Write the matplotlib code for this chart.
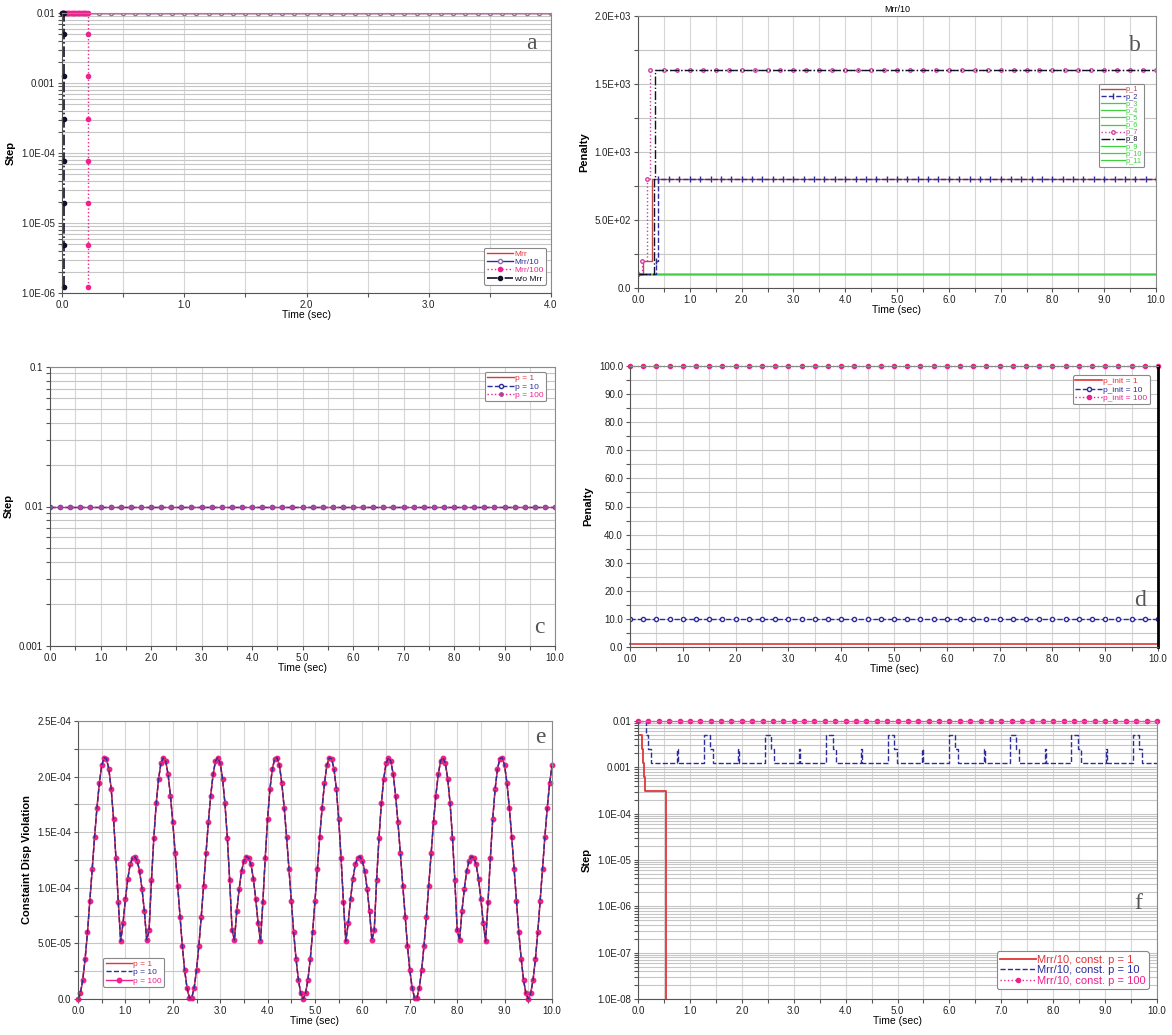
import numpy as np
import matplotlib.pyplot as plt
from matplotlib.ticker import MultipleLocator, LogLocator, FuncFormatter, NullFormatter

plt.rcParams['font.family'] = ['Liberation Sans', 'DejaVu Sans']

RED = '#e0353a'
BLUE = '#2c2c9c'
MAGENTA = '#f0208f'
GREEN = '#3ed03e'
BLACK = '#101028'

# ---- (a) step size vs time for different Mrr scalings
drop_steps = [5.0e-3, 1.25e-3, 3.1e-4, 7.8e-5, 1.95e-5, 4.9e-6, 1.2e-6]
a_t_mrr = [0.0, 4.0]
a_s_mrr = [0.01, 0.01]
a_t_mrr10 = np.round(np.arange(0, 4.001, 0.1), 2)
a_s_mrr10 = np.full(len(a_t_mrr10), 0.01)
a_t_mrr100 = list(np.round(np.arange(0, 0.211, 0.01), 2)) + [0.21] * len(drop_steps)
a_s_mrr100 = [0.01] * 22 + drop_steps
a_t_nomrr = [0.0, 0.01, 0.02] + [0.02] * len(drop_steps)
a_s_nomrr = [0.01, 0.01, 0.01] + drop_steps

# ---- (b) penalty histories, Mrr/10
grid_b = list(np.round(np.arange(0.5, 10.001, 0.25), 2))
grid_b2 = list(np.round(np.arange(0.6, 10.001, 0.2), 2))
b_t_p1 = [0.0, 0.10, 0.27, 10.0]
b_v_p1 = [100, 200, 800, 800]
b_t_p2 = [0.0, 0.35, 0.39] + grid_b2
b_v_p2 = [100, 200, 800] + [800] * len(grid_b2)
b_t_p7 = [0.0, 0.08, 0.18, 0.23] + grid_b
b_v_p7 = [100, 200, 800, 1600] + [1600] * len(grid_b)
b_t_p8 = [0.0, 0.30, 0.33] + grid_b
b_v_p8 = [100, 800, 1600] + [1600] * len(grid_b)
b_t_flat = [0.0, 10.0]
b_v_flat = [100, 100]
b_green = ['p_3', 'p_4', 'p_5', 'p_6', 'p_9', 'p_10', 'p_11']

# ---- (c) step size for constant penalties
c_t = np.round(np.arange(0, 10.001, 0.2), 2)
c_step = np.full(len(c_t), 0.01)

# ---- (d) penalty for different initial values
d_t = np.round(np.arange(0, 10.001, 0.25), 2)
d_p1 = np.full(len(d_t), 1.0)
d_p10 = np.full(len(d_t), 10.0)
d_p100 = np.full(len(d_t), 100.0)

# ---- (e) constraint displacement violation (units of 1e-4), sampled every 0.05 s
e_t = np.round(np.arange(0, 10.001, 0.05), 2)
e_viol = [
    0.00, 0.05, 0.17, 0.36, 0.60, 0.88, 1.17, 1.46, 1.72, 1.94,
    2.10, 2.17, 2.16, 2.07, 1.89, 1.62, 1.27, 0.87, 0.52, 0.68,
    0.90, 1.08, 1.21, 1.27, 1.28, 1.24, 1.15, 0.99, 0.79, 0.53,
    0.62, 1.07, 1.45, 1.76, 1.98, 2.12, 2.17, 2.14, 2.02, 1.83,
    1.59, 1.31, 1.02, 0.74, 0.48, 0.26, 0.10, 0.01, 0.01, 0.10,
    0.26, 0.48, 0.74, 1.02, 1.31, 1.59, 1.83, 2.02, 2.14, 2.17,
    2.12, 1.98, 1.76, 1.45, 1.07, 0.62, 0.53, 0.79, 0.99, 1.15,
    1.24, 1.28, 1.27, 1.21, 1.08, 0.90, 0.68, 0.52, 0.87, 1.27,
    1.62, 1.89, 2.07, 2.16, 2.17, 2.10, 1.94, 1.72, 1.46, 1.17,
    0.88, 0.60, 0.36, 0.17, 0.05,
    0.00, 0.05, 0.17, 0.36, 0.60, 0.88, 1.17, 1.46, 1.72, 1.94,
    2.10, 2.17, 2.16, 2.07, 1.89, 1.62, 1.27, 0.87, 0.52, 0.68,
    0.90, 1.08, 1.21, 1.27, 1.28, 1.24, 1.15, 0.99, 0.79, 0.53,
    0.62, 1.07, 1.45, 1.76, 1.98, 2.12, 2.17, 2.14, 2.02, 1.83,
    1.59, 1.31, 1.02, 0.74, 0.48, 0.26, 0.10, 0.01, 0.01, 0.10,
    0.26, 0.48, 0.74, 1.02, 1.31, 1.59, 1.83, 2.02, 2.14, 2.17,
    2.12, 1.98, 1.76, 1.45, 1.07, 0.62, 0.53, 0.79, 0.99, 1.15,
    1.24, 1.28, 1.27, 1.21, 1.08, 0.90, 0.68, 0.52, 0.87, 1.27,
    1.62, 1.89, 2.07, 2.16, 2.17, 2.10, 1.94, 1.72, 1.46, 1.17,
    0.88, 0.60, 0.36, 0.17, 0.05,
    0.00, 0.05, 0.17, 0.36, 0.60, 0.88, 1.17, 1.46, 1.72, 1.94,
    2.10,
]

# ---- (f) step size, Mrr/10 with constant penalties
f_t_p1 = [0.03, 0.07, 0.10, 0.12, 0.13, 0.53]
f_s_p1 = [5.0e-3, 2.5e-3, 1.25e-3, 6.25e-4, 3.1e-4, 1e-10]
f_t_p10 = [0.00, 0.15, 0.20, 0.26,
           0.76, 0.78, 1.27, 1.39, 1.45,
           1.93, 1.95, 2.44, 2.56, 2.62,
           3.10, 3.12, 3.63, 3.75, 3.81,
           4.30, 4.32, 4.81, 4.93, 4.99,
           5.47, 5.49, 5.99, 6.11, 6.17,
           6.66, 6.68, 7.16, 7.28, 7.34,
           7.84, 7.86, 8.35, 8.47, 8.53,
           9.02, 9.04, 9.53, 9.65, 9.71,
           10.0]
f_s_p10 = [0.01, 0.005, 0.0025, 0.00125,
           0.0025, 0.00125, 0.005, 0.0025, 0.00125,
           0.0025, 0.00125, 0.005, 0.0025, 0.00125,
           0.0025, 0.00125, 0.005, 0.0025, 0.00125,
           0.0025, 0.00125, 0.005, 0.0025, 0.00125,
           0.0025, 0.00125, 0.005, 0.0025, 0.00125,
           0.0025, 0.00125, 0.005, 0.0025, 0.00125,
           0.0025, 0.00125, 0.005, 0.0025, 0.00125,
           0.0025, 0.00125, 0.005, 0.0025, 0.00125,
           0.00125]
f_t_p100 = np.round(np.arange(0, 10.001, 0.2), 2)
f_s_p100 = np.full(len(f_t_p100), 0.01)


W, H = 1172, 1035
fig = plt.figure(figsize=(W / 100, H / 100), dpi=100)


def add_axes(l, t, r, b):
    return fig.add_axes([l / W, 1 - b / H, (r - l) / W, (b - t) / H])


def sci_fmt(v, pos):
    return '0.0' if v == 0 else '%.1E' % v


def log_fmt(v, pos):
    return '%g' % v if v >= 1e-3 else '%.1E' % v


def style(ax, xmax, ylabel):
    ax.set_xlim(0, xmax)
    ax.xaxis.set_major_locator(MultipleLocator(1))
    ax.xaxis.set_minor_locator(MultipleLocator(0.5))
    ax.xaxis.set_major_formatter(FuncFormatter(lambda v, p: '%.1f' % v))
    ax.grid(which='both', axis='x', color='#d6d6d6', lw=0.8)
    ax.grid(which='both', axis='y', color='#c6c6c6', lw=0.8)
    ax.set_axisbelow(True)
    ax.tick_params(which='both', direction='out', length=3, width=0.8,
                   color='#555555', labelsize=7, labelcolor='#222222', pad=2)
    ax.set_xlabel('Time (sec)', fontsize=7.5, labelpad=0)
    ax.set_ylabel(ylabel, fontsize=8, fontweight='bold', labelpad=4)
    for side in ['top', 'right']:
        ax.spines[side].set_color('#8a8a8a')
    for side in ['left', 'bottom']:
        ax.spines[side].set_color('#555555')


def log_y(ax, lo, hi):
    ax.set_yscale('log')
    ax.set_ylim(lo, hi)
    ax.yaxis.set_major_locator(LogLocator(base=10))
    ax.yaxis.set_minor_locator(LogLocator(base=10, subs=range(2, 10)))
    ax.yaxis.set_major_formatter(FuncFormatter(log_fmt))
    ax.yaxis.set_minor_formatter(NullFormatter())


def legend(ax, handles, fontsize=6, labelspacing=0.05, **kw):
    leg = ax.legend(handles=handles, fontsize=fontsize, frameon=True, fancybox=True,
                    edgecolor='#888888', framealpha=1, handlelength=3.2,
                    handletextpad=0.1, borderpad=0.3, labelspacing=labelspacing,
                    borderaxespad=0, **kw)
    leg.get_frame().set_linewidth(0.8)
    for text, line in zip(leg.get_texts(), leg.get_lines()):
        text.set_color(line.get_color())
    return leg


def letter(ax, x, y, s):
    ax.text(x, y, s, transform=ax.transAxes, fontsize=17, family='Liberation Serif',
            color='#555555', ha='center', va='center')


# (a)
ax = add_axes(62, 13, 551, 293)
style(ax, 4.0, 'Step')
log_y(ax, 1e-6, 0.01)
h2, = ax.plot(a_t_mrr10, a_s_mrr10, color=BLUE, lw=1, marker='o', ms=3,
              mfc='white', mec='#8a70b0', label='Mrr/10')
h1, = ax.plot(a_t_mrr, a_s_mrr, color=RED, lw=1, label='Mrr')
h3, = ax.plot(a_t_mrr100, a_s_mrr100, color=MAGENTA, lw=1, ls=':', marker='o', ms=3,
              label='Mrr/100', clip_on=False)
h4, = ax.plot(a_t_nomrr, a_s_nomrr, color=BLACK, lw=1.2, ls='-.', marker='o', ms=3,
              label='w/o Mrr', clip_on=False)
legend(ax, [h1, h2, h3, h4], loc='lower right', bbox_to_anchor=(0.99, 0.028))
letter(ax, 0.96, 0.89, 'a')

# (b)
ax = add_axes(638, 16, 1156, 288)
style(ax, 10.0, 'Penalty')
ax.set_ylim(0, 2000)
ax.yaxis.set_major_locator(MultipleLocator(500))
ax.yaxis.set_minor_locator(MultipleLocator(250))
ax.yaxis.set_major_formatter(FuncFormatter(sci_fmt))
ax.set_title('Mrr/10', fontsize=6.5, pad=3)
handles = {}
for name in b_green:
    handles[name], = ax.plot(b_t_flat, b_v_flat, color=GREEN, lw=0.9, label=name)
handles['p_1'], = ax.plot(b_t_p1, b_v_p1, color='#c04848', lw=1, drawstyle='steps-post',
                          label='p_1')
handles['p_2'], = ax.plot(b_t_p2, b_v_p2, color=BLUE, lw=1, ls='--', drawstyle='steps-post',
                          marker='|', ms=4, label='p_2')
handles['p_7'], = ax.plot(b_t_p7, b_v_p7, color='#d040a0', lw=1, ls=':', drawstyle='steps-post',
                          marker='o', ms=2.5, mfc='white', label='p_7')
handles['p_8'], = ax.plot(b_t_p8, b_v_p8, color=BLACK, lw=1, ls='-.', drawstyle='steps-post',
                          label='p_8')
order = ['p_1', 'p_2', 'p_3', 'p_4', 'p_5', 'p_6', 'p_7', 'p_8', 'p_9', 'p_10', 'p_11']
legend(ax, [handles[k] for k in order], fontsize=5.3, labelspacing=0.0,
       loc='upper right', bbox_to_anchor=(0.977, 0.75))
letter(ax, 0.96, 0.893, 'b')

# (c)
ax = add_axes(50, 367, 555, 646)
style(ax, 10.0, 'Step')
log_y(ax, 1e-3, 0.1)
c1, = ax.plot(c_t, c_step, color=RED, lw=1, label='p = 1')
c2, = ax.plot(c_t, c_step, color=BLUE, lw=1, ls='--', marker='o', ms=3, mfc='white',
              label='p = 10')
c3, = ax.plot(c_t, c_step, color=MAGENTA, lw=1, ls=':', marker='o', ms=2.5, mec='#a050a0',
              label='p = 100')
legend(ax, [c1, c2, c3], loc='upper right', bbox_to_anchor=(0.982, 0.982))
letter(ax, 0.97, 0.065, 'c')

# (d)
ax = add_axes(630, 366, 1158, 647)
style(ax, 10.0, 'Penalty')
ax.set_ylim(0, 100)
ax.yaxis.set_major_locator(MultipleLocator(10))
ax.yaxis.set_minor_locator(MultipleLocator(5))
ax.yaxis.set_major_formatter(FuncFormatter(lambda v, p: '%.1f' % v))
d1, = ax.plot(d_t, d_p1, color=RED, lw=1.2, label='p_init = 1', clip_on=False)
d2, = ax.plot(d_t, d_p10, color=BLUE, lw=1, ls='--', marker='o', ms=3, mfc='white',
              label='p_init = 10')
d3, = ax.plot(d_t, d_p100, color=MAGENTA, lw=1, ls=':', marker='o', ms=3,
              label='p_init = 100', clip_on=False)
ax.spines['right'].set_color('black')
ax.spines['right'].set_linewidth(2)
legend(ax, [d1, d2, d3], loc='upper right', bbox_to_anchor=(0.984, 0.968))
letter(ax, 0.966, 0.165, 'd')

# (e)
ax = add_axes(78, 721, 552, 999)
style(ax, 10.0, 'Constaint Disp Violation')
ax.set_ylim(0, 2.5e-4)
ax.yaxis.set_major_locator(MultipleLocator(5e-5))
ax.yaxis.set_minor_locator(MultipleLocator(2.5e-5))
ax.yaxis.set_major_formatter(FuncFormatter(sci_fmt))
viol = np.array(e_viol) * 1e-4
e3, = ax.plot(e_t, viol, color=MAGENTA, lw=1, marker='o', ms=3.2, label='p = 100',
              clip_on=False)
e1, = ax.plot(e_t, viol, color=RED, lw=1, label='p = 1')
e2, = ax.plot(e_t, viol, color=BLUE, lw=1, ls='--', label='p = 10')
legend(ax, [e1, e2, e3], loc='lower left', bbox_to_anchor=(0.053, 0.043))
letter(ax, 0.975, 0.94, 'e')

# (f)
ax = add_axes(638, 721, 1157, 999)
style(ax, 10.0, 'Step')
log_y(ax, 1e-8, 0.01)
f1, = ax.plot(f_t_p1, f_s_p1, color=RED, lw=1.3, drawstyle='steps-post',
              label='Mrr/10, const. p = 1')
f2, = ax.plot(f_t_p10, f_s_p10, color=BLUE, lw=1, ls='--', drawstyle='steps-post',
              label='Mrr/10, const. p = 10')
f3, = ax.plot(f_t_p100, f_s_p100, color=MAGENTA, lw=1, ls=':', marker='o', ms=3,
              label='Mrr/10, const. p = 100', clip_on=False)
legend(ax, [f1, f2, f3], fontsize=8, loc='lower right', bbox_to_anchor=(0.984, 0.035))
letter(ax, 0.963, 0.343, 'f')

fig.savefig('out.png', dpi=100)
